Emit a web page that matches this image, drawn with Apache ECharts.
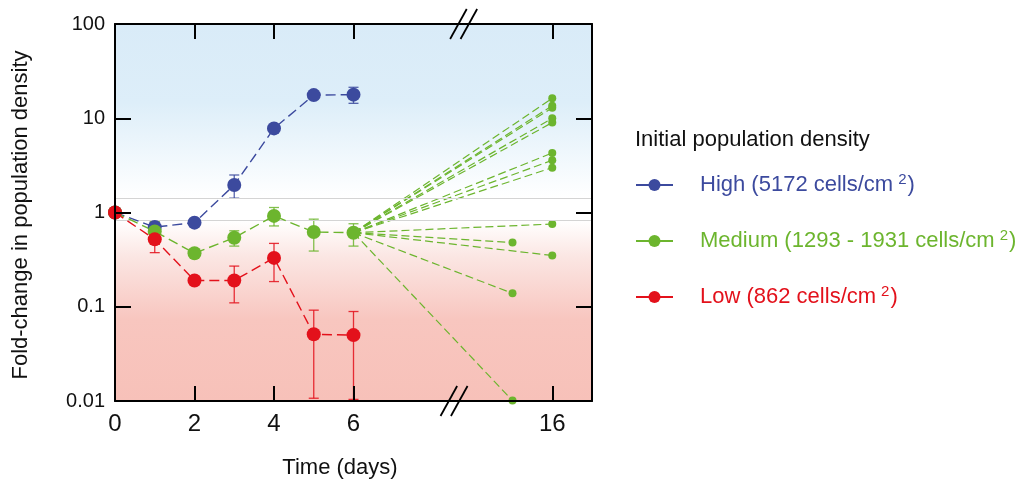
<!DOCTYPE html>
<html><head><meta charset="utf-8">
<script src="https://cdn.jsdelivr.net/npm/echarts@6/dist/echarts.min.js"></script>
<style>html,body{margin:0;padding:0;background:#fff}#c{width:1030px;height:484px}</style>
</head><body><div id="c"></div>
<script>
// ---- data ----
const days = [0, 1, 2, 3, 4, 5, 6];
const highMean   = [1, 0.70, 0.78, 1.96, 7.8, 17.6, 17.8];
const highLow    = [null, 0.63, null, 1.42, null, null, 14.4];
const highHigh   = [null, 0.79, null, 2.50, null, null, 21.3];
const mediumMean = [1, 0.63, 0.37, 0.54, 0.92, 0.62, 0.61];
const mediumLow  = [null, 0.46, null, 0.44, 0.72, 0.39, 0.44];
const mediumHigh = [null, 0.80, null, 0.64, 1.13, 0.85, 0.76];
const lowMean    = [1, 0.52, 0.19, 0.19, 0.33, 0.051, 0.050];
const lowLow     = [null, 0.375, null, 0.11, 0.185, 0.0107, 0.0104];
const lowHigh    = [null, 0.67, null, 0.27, 0.47, 0.092, 0.089];
// individual medium-density cultures followed after day 6
const mediumEndDays   = [16, 16, 16, 16, 16, 16, 16, 16, 16, 16, 15, 15, 15];
const mediumEndValues = [16.3, 13.6, 12.9, 10.0, 9.0, 4.28, 3.58, 2.99, 0.755, 0.35, 0.48, 0.139, 0.0101];
const xTickDays = [0, 2, 4, 6, 16];
const seriesNames = ['High', 'Medium', 'Low'];
const legendLabels = ['High (5172 cells/cm', 'Medium (1293 - 1931 cells/cm', 'Low (862 cells/cm'];
const blueZoneFloor = 1.43;
const redZoneCeil = 0.82;
const breakAfterDay = 8, breakGap = 5, breakMarkX = 8.65;

// ---- styles ----
const C = { High: '#3c4a9e', Medium: '#6cb52e', Low: '#e3111b' };
const FONT = 'Liberation Sans, Arial, sans-serif';
function xPos(d) { return d > breakAfterDay ? d - breakGap : d; }
const xTickPos = xTickDays.map(xPos);

function meanData(m) { return days.map((d, i) => [xPos(d), m[i]]); }
function errData(lo, hi) {
  const out = [];
  days.forEach((d, i) => { if (lo[i] != null) out.push([xPos(d), lo[i], hi[i]]); });
  return out;
}
function errSeries(name, lo, hi) {
  const col = C[name];
  return {
    type: 'custom', name: name + 'err', z: 3, silent: true,
    encode: { x: 0, y: [1, 2] },
    data: errData(lo, hi),
    renderItem(params, api) {
      const x = api.value(0);
      const a = api.coord([x, api.value(1)]);
      const b = api.coord([x, api.value(2)]);
      const hw = 5;
      const st = { stroke: col, lineWidth: 1.3, opacity: 0.85 };
      return { type: 'group', children: [
        { type: 'line', shape: { x1: a[0], y1: a[1], x2: b[0], y2: b[1] }, style: st },
        { type: 'line', shape: { x1: a[0] - hw, y1: a[1], x2: a[0] + hw, y2: a[1] }, style: st },
        { type: 'line', shape: { x1: b[0] - hw, y1: b[1], x2: b[0] + hw, y2: b[1] }, style: st }
      ] };
    }
  };
}
function mainSeries(name, m) {
  return {
    type: 'line', name: name, z: 5, data: meanData(m),
    symbol: 'circle', symbolSize: 14, showAllSymbol: true,
    itemStyle: { color: C[name] },
    lineStyle: { color: C[name], width: 1.4, type: [10, 5] },
    emphasis: { disabled: true }, animation: false
  };
}

const indivSeries = mediumEndDays.map((d, i) => ({
  type: 'line', z: 2, silent: true, animation: false,
  data: [[xPos(days[6]), mediumMean[6]], [xPos(d), mediumEndValues[i]]],
  symbol: 'circle',
  symbolSize: (v, p) => (p.dataIndex === 0 ? 0 : 8),
  itemStyle: { color: C.Medium },
  lineStyle: { color: C.Medium, width: 1.2, type: [8, 4] }
}));

const bgSeries = {
  type: 'line', z: 0, silent: true, data: [], animation: false,
  markArea: {
    silent: true,
    data: [
      [{ yAxis: blueZoneFloor, itemStyle: { color: { type: 'linear', x: 0, y: 0, x2: 0, y2: 1,
          colorStops: [{ offset: 0, color: '#d9ebf8' }, { offset: 0.45, color: '#ddeef9' }, { offset: 1, color: '#ffffff' }] } } },
       { yAxis: 100 }],
      [{ yAxis: redZoneCeil, itemStyle: { color: { type: 'linear', x: 0, y: 0, x2: 0, y2: 1,
          colorStops: [{ offset: 0, color: '#ffffff' }, { offset: 0.2, color: '#fbe6e3' }, { offset: 0.55, color: '#f8c6bf' }, { offset: 1, color: '#f7c1b9' }] } } },
       { yAxis: 0.01 }]
    ]
  },
  markLine: {
    silent: true, symbol: 'none', label: { show: false },
    lineStyle: { color: '#d4d4d4', width: 1, type: 'solid' },
    data: [{ yAxis: blueZoneFloor }, { yAxis: redZoneCeil }]
  }
};

const rich = {};
seriesNames.forEach(n => {
  rich[n + 'g'] = { width: 22 };
  rich[n + 't'] = { fontSize: 22, color: C[n], lineHeight: 26, fontFamily: FONT };
  rich[n + 's'] = { fontSize: 15, color: C[n], lineHeight: 26, verticalAlign: 'top', padding: [0, 1, 0, 5], fontFamily: FONT };
});

const axisCommonX = {
  type: 'value', min: 0, max: 12,
  axisLine: { show: true, onZero: false, lineStyle: { color: '#000', width: 2 } },
  axisTick: { show: true, inside: true, length: 15, lineStyle: { color: '#000', width: 2 }, customValues: xTickPos.slice(1) },
  splitLine: { show: false }, z: 10
};
const axisCommonY = {
  type: 'log', logBase: 10, min: 0.01, max: 100,
  axisLine: { show: true, onZero: false, lineStyle: { color: '#000', width: 2 } },
  axisTick: { show: true, inside: true, length: 16, lineStyle: { color: '#000', width: 2 } },
  minorTick: { show: false }, splitLine: { show: false }, z: 10
};

const option = {
  animation: false,
  textStyle: { fontFamily: FONT },
  grid: { left: 115, right: 438, top: 24, bottom: 83 },
  xAxis: [
    Object.assign({}, axisCommonX, { position: 'bottom',
      axisLabel: { show: true, customValues: xTickPos, fontSize: 24, color: '#111', margin: 11,
        formatter: v => String(xTickDays[xTickPos.indexOf(v)]) } }),
    Object.assign({}, axisCommonX, { position: 'top', axisLabel: { show: false } })
  ],
  yAxis: [
    Object.assign({}, axisCommonY, { position: 'left',
      axisLabel: { show: true, fontSize: 20, color: '#111', margin: 10 } }),
    Object.assign({}, axisCommonY, { position: 'right', axisLabel: { show: false } })
  ],
  legend: {
    orient: 'vertical', left: 635, top: 172, padding: 0,
    itemWidth: 37, itemHeight: 15, itemGap: 32,
    data: seriesNames,
    selectedMode: false,
    lineStyle: { type: 'solid', width: 2 },
    textStyle: { rich: rich, padding: 0 },
    formatter: n => `{${n}g|}{${n}t|${legendLabels[seriesNames.indexOf(n)]}}{${n}s|2}{${n}t|)}`
  },
  series: [bgSeries].concat(indivSeries, [
    errSeries('High', highLow, highHigh),
    errSeries('Medium', mediumLow, mediumHigh),
    errSeries('Low', lowLow, lowHigh),
    mainSeries('High', highMean),
    mainSeries('Medium', mediumMean),
    mainSeries('Low', lowMean)
  ])
};

const chart = echarts.init(document.getElementById('c'), null, { renderer: 'canvas' });
chart.setOption(option);

const bx = chart.convertToPixel({ xAxisIndex: 0 }, breakMarkX);
const yTop = chart.convertToPixel({ yAxisIndex: 0 }, 100);
const yBot = chart.convertToPixel({ yAxisIndex: 0 }, 0.01);
function breakPair(cx, cy) {
  return [-5.2, 5.2].map(dx => ({
    type: 'line', z: 100,
    shape: { x1: cx + dx - 8.3, y1: cy + 15, x2: cx + dx + 8.3, y2: cy - 15 },
    style: { stroke: '#000', lineWidth: 1.8 }
  }));
}
chart.setOption({
  graphic: [
    ...breakPair(bx + 4.8, yTop),
    ...breakPair(bx - 4.8, yBot),
    { type: 'text', x: 21, y: 215, rotation: Math.PI / 2, z: 100,
      style: { text: 'Fold-change in population density', font: '22px ' + FONT, fill: '#111', align: 'center', verticalAlign: 'middle' } },
    { type: 'text', x: 340, y: 468, z: 100,
      style: { text: 'Time (days)', font: '22px ' + FONT, fill: '#111', align: 'center', verticalAlign: 'middle' } },
    { type: 'text', x: 635, y: 129, z: 100,
      style: { text: 'Initial population density', font: '22px ' + FONT, fill: '#111', align: 'left', verticalAlign: 'top' } }
  ]
});
</script>
</body></html>
